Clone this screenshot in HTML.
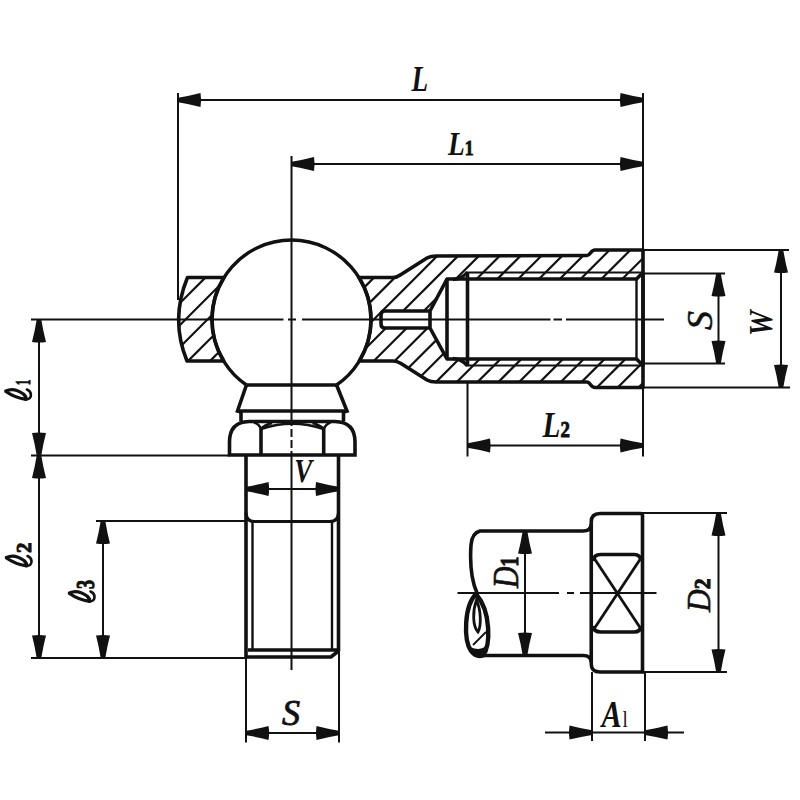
<!DOCTYPE html>
<html><head><meta charset="utf-8"><style>
html,body{margin:0;padding:0;background:#fff;}
svg{display:block;}
</style></head><body>
<svg width="800" height="800" viewBox="0 0 800 800">
<rect width="800" height="800" fill="#fff"/>
<defs>
<clipPath id="cl"><path d="M187.5,277.5 L224.00,277.5 A79.5,79.5 0 0 0 223.69,361 L187,361 Q170,319.5 187.5,277.5 Z"/></clipPath>
<clipPath id="cr"><path d="M359.00,277.5 L393,277.5 Q397,277.5 401,274.5 L427,258 Q430.5,256 436,256 L587,255.5 C590.5,255.5 590.5,250 595,250 L643,250 L643,387.5 L595,387.5 C590.5,387.5 590.5,382 587,382 L436,382 Q430.5,382 427,380 L401,363.5 Q397,361 393,361 L359.31,361 A79.5,79.5 0 0 0 359.00,277.5 Z M430,311 L447,279 L636.5,279 L643,272.5 L643,365.5 L636.5,359 L447,359 L430,328 Z M385,311 L430,311 L430,328 L385,328 Q381,328 381,324 L381,315 Q381,311 385,311 Z" clip-rule="evenodd"/></clipPath>
</defs>
<g clip-path="url(#cl)">
<line x1="145.00" y1="250" x2="-5.00" y2="400" stroke="#111" stroke-width="2.2"/>
<line x1="167.00" y1="250" x2="17.00" y2="400" stroke="#111" stroke-width="2.2"/>
<line x1="189.00" y1="250" x2="39.00" y2="400" stroke="#111" stroke-width="2.2"/>
<line x1="211.00" y1="250" x2="61.00" y2="400" stroke="#111" stroke-width="2.2"/>
<line x1="233.00" y1="250" x2="83.00" y2="400" stroke="#111" stroke-width="2.2"/>
<line x1="255.00" y1="250" x2="105.00" y2="400" stroke="#111" stroke-width="2.2"/>
<line x1="277.00" y1="250" x2="127.00" y2="400" stroke="#111" stroke-width="2.2"/>
<line x1="299.00" y1="250" x2="149.00" y2="400" stroke="#111" stroke-width="2.2"/>
<line x1="321.00" y1="250" x2="171.00" y2="400" stroke="#111" stroke-width="2.2"/>
<line x1="343.00" y1="250" x2="193.00" y2="400" stroke="#111" stroke-width="2.2"/>
<line x1="365.00" y1="250" x2="215.00" y2="400" stroke="#111" stroke-width="2.2"/>
</g>
<g clip-path="url(#cr)">
<line x1="338.40" y1="230" x2="168.40" y2="400" stroke="#111" stroke-width="2.2"/>
<line x1="359.20" y1="230" x2="189.20" y2="400" stroke="#111" stroke-width="2.2"/>
<line x1="380.00" y1="230" x2="210.00" y2="400" stroke="#111" stroke-width="2.2"/>
<line x1="400.80" y1="230" x2="230.80" y2="400" stroke="#111" stroke-width="2.2"/>
<line x1="421.60" y1="230" x2="251.60" y2="400" stroke="#111" stroke-width="2.2"/>
<line x1="442.40" y1="230" x2="272.40" y2="400" stroke="#111" stroke-width="2.2"/>
<line x1="463.20" y1="230" x2="293.20" y2="400" stroke="#111" stroke-width="2.2"/>
<line x1="484.00" y1="230" x2="314.00" y2="400" stroke="#111" stroke-width="2.2"/>
<line x1="504.80" y1="230" x2="334.80" y2="400" stroke="#111" stroke-width="2.2"/>
<line x1="525.60" y1="230" x2="355.60" y2="400" stroke="#111" stroke-width="2.2"/>
<line x1="546.40" y1="230" x2="376.40" y2="400" stroke="#111" stroke-width="2.2"/>
<line x1="567.20" y1="230" x2="397.20" y2="400" stroke="#111" stroke-width="2.2"/>
<line x1="588.00" y1="230" x2="418.00" y2="400" stroke="#111" stroke-width="2.2"/>
<line x1="608.80" y1="230" x2="438.80" y2="400" stroke="#111" stroke-width="2.2"/>
<line x1="629.60" y1="230" x2="459.60" y2="400" stroke="#111" stroke-width="2.2"/>
<line x1="650.40" y1="230" x2="480.40" y2="400" stroke="#111" stroke-width="2.2"/>
<line x1="671.20" y1="230" x2="501.20" y2="400" stroke="#111" stroke-width="2.2"/>
<line x1="692.00" y1="230" x2="522.00" y2="400" stroke="#111" stroke-width="2.2"/>
<line x1="712.80" y1="230" x2="542.80" y2="400" stroke="#111" stroke-width="2.2"/>
<line x1="733.60" y1="230" x2="563.60" y2="400" stroke="#111" stroke-width="2.2"/>
<line x1="754.40" y1="230" x2="584.40" y2="400" stroke="#111" stroke-width="2.2"/>
<line x1="775.20" y1="230" x2="605.20" y2="400" stroke="#111" stroke-width="2.2"/>
<line x1="796.00" y1="230" x2="626.00" y2="400" stroke="#111" stroke-width="2.2"/>
<line x1="816.80" y1="230" x2="646.80" y2="400" stroke="#111" stroke-width="2.2"/>
</g>
<path d="M187.5,277.5 L224.00,277.5 A79.5,79.5 0 0 0 223.69,361 L187,361 Q170,319.5 187.5,277.5 Z" fill="none" stroke="#111" stroke-width="3.6" stroke-linejoin="round"/>
<path d="M359.00,277.5 L393,277.5 Q397,277.5 401,274.5 L427,258 Q430.5,256 436,256 L587,255.5 C590.5,255.5 590.5,250 595,250 L643,250 L643,387.5 L595,387.5 C590.5,387.5 590.5,382 587,382 L436,382 Q430.5,382 427,380 L401,363.5 Q397,361 393,361 L359.31,361 A79.5,79.5 0 0 0 359.00,277.5 Z" fill="none" stroke="#111" stroke-width="3.6" stroke-linejoin="round"/>
<path d="M430,311 L447,279 L636.5,279 L643,272.5 L643,365.5 L636.5,359 L447,359 L430,328 Z M385,311 L430,311 L430,328 L385,328 Q381,328 381,324 L381,315 Q381,311 385,311 Z" fill="none" stroke="#111" stroke-width="3.6" stroke-linejoin="round"/>
<line x1="447" y1="279" x2="447" y2="359" stroke="#111" stroke-width="3.6" />
<line x1="467.5" y1="272.5" x2="467.5" y2="365.5" stroke="#111" stroke-width="3.6" />
<line x1="636.5" y1="279" x2="636.5" y2="359" stroke="#111" stroke-width="2.4" />
<line x1="467" y1="272.5" x2="643" y2="272.5" stroke="#111" stroke-width="2.0" />
<line x1="467" y1="365.5" x2="643" y2="365.5" stroke="#111" stroke-width="2.0" />
<path d="M453,279.5 Q462,279 467.5,272 M453,358.5 Q462,359 467.5,366" fill="none" stroke="#111" stroke-width="3.4"/>
<path d="M246.44,385 A79.5,79.5 0 1 1 336.56,385" fill="none" stroke="#111" stroke-width="3.4"/>
<path d="M246.44,385 L336.56,385" stroke="#111" stroke-width="3.6"/>
<path d="M246.44,385 L237.5,411 L241,412 L241,421 M336.56,385 L347,411 L343.5,412 L343.5,421" fill="none" stroke="#111" stroke-width="3.6"/>
<line x1="237.5" y1="411" x2="347" y2="411" stroke="#111" stroke-width="3.6" />
<path d="M229.5,455 L229.5,442 Q229.5,422 249,421.5 L335,421.5 Q355,422 355,442 L355,455 Z" fill="none" stroke="#111" stroke-width="3.6"/>
<line x1="261" y1="428.5" x2="261" y2="455" stroke="#111" stroke-width="3.6" />
<line x1="323.7" y1="428.5" x2="323.7" y2="455" stroke="#111" stroke-width="3.6" />
<path d="M254,422.5 Q259,424 261,429 Q264,425 272,423 M312.5,423 Q320,425 323.7,429 Q326,424 330.5,422.5 M261,429 Q292,418.5 323.7,429" fill="none" stroke="#111" stroke-width="2.6"/>
<path d="M246,455 L246,657 M338.5,455 L338.5,651" fill="none" stroke="#111" stroke-width="3.6"/>
<path d="M246,513 Q246.5,521.5 254,521.5 L330,521.5 Q338,521.5 338.5,513" fill="none" stroke="#111" stroke-width="3.2"/>
<line x1="252.5" y1="521" x2="252.5" y2="650" stroke="#111" stroke-width="2.4" />
<line x1="332" y1="521" x2="332" y2="650" stroke="#111" stroke-width="2.4" />
<line x1="248" y1="650" x2="337" y2="650" stroke="#111" stroke-width="3.6" />
<path d="M246,657 L331,657 L338.5,651" fill="none" stroke="#111" stroke-width="3.6"/>
<path d="M31,319.5 H283.5 M288,319.5 H296 M302,319.5 H550.5 M553.5,319.5 H562 M566,319.5 H664" stroke="#111" stroke-width="2.0"/>
<path d="M291.5,156 V426 M291.5,429 V437 M291.5,440 V448 M291.5,451 V670" stroke="#111" stroke-width="2.0"/>
<line x1="178" y1="100" x2="643" y2="100" stroke="#111" stroke-width="2.0" />
<path d="M178.00,97.70 Q190.38,95.70 200.50,93.00 Q201.70,100.00 200.50,107.00 Q190.38,104.30 178.00,102.30 Z" fill="#111"/>
<path d="M643.00,102.30 Q630.62,104.30 620.50,107.00 Q619.30,100.00 620.50,93.00 Q630.62,95.70 643.00,97.70 Z" fill="#111"/>
<line x1="178" y1="93" x2="178" y2="300" stroke="#111" stroke-width="2.0" />
<line x1="643" y1="93" x2="643" y2="250" stroke="#111" stroke-width="2.0" />
<line x1="291.5" y1="164" x2="643" y2="164" stroke="#111" stroke-width="2.0" />
<path d="M291.50,161.70 Q303.88,159.70 314.00,157.00 Q315.20,164.00 314.00,171.00 Q303.88,168.30 291.50,166.30 Z" fill="#111"/>
<path d="M643.00,166.30 Q630.62,168.30 620.50,171.00 Q619.30,164.00 620.50,157.00 Q630.62,159.70 643.00,161.70 Z" fill="#111"/>
<line x1="643" y1="250" x2="789" y2="250" stroke="#111" stroke-width="2.0" />
<line x1="643" y1="387.5" x2="790" y2="387.5" stroke="#111" stroke-width="2.0" />
<line x1="781" y1="250" x2="781" y2="387.5" stroke="#111" stroke-width="2.0" />
<path d="M783.30,250.00 Q785.30,262.38 788.00,272.50 Q781.00,273.70 774.00,272.50 Q776.70,262.38 778.70,250.00 Z" fill="#111"/>
<path d="M778.70,387.50 Q776.70,375.12 774.00,365.00 Q781.00,363.80 788.00,365.00 Q785.30,375.12 783.30,387.50 Z" fill="#111"/>
<line x1="643" y1="273.5" x2="725" y2="273.5" stroke="#111" stroke-width="2.0" />
<line x1="643" y1="363.5" x2="725" y2="363.5" stroke="#111" stroke-width="2.0" />
<line x1="718.5" y1="273.5" x2="718.5" y2="363.5" stroke="#111" stroke-width="2.0" />
<path d="M720.80,273.50 Q722.80,285.88 725.50,296.00 Q718.50,297.20 711.50,296.00 Q714.20,285.88 716.20,273.50 Z" fill="#111"/>
<path d="M716.20,363.50 Q714.20,351.12 711.50,341.00 Q718.50,339.80 725.50,341.00 Q722.80,351.12 720.80,363.50 Z" fill="#111"/>
<line x1="467.5" y1="382" x2="467.5" y2="456.5" stroke="#111" stroke-width="2.0" />
<line x1="643" y1="387.5" x2="643" y2="456.5" stroke="#111" stroke-width="2.0" />
<line x1="467.5" y1="445.5" x2="643" y2="445.5" stroke="#111" stroke-width="2.0" />
<path d="M467.50,443.20 Q479.88,441.20 490.00,438.50 Q491.20,445.50 490.00,452.50 Q479.88,449.80 467.50,447.80 Z" fill="#111"/>
<path d="M643.00,447.80 Q630.62,449.80 620.50,452.50 Q619.30,445.50 620.50,438.50 Q630.62,441.20 643.00,443.20 Z" fill="#111"/>
<line x1="31" y1="455.5" x2="229.5" y2="455.5" stroke="#111" stroke-width="2.0" />
<line x1="39" y1="319.5" x2="39" y2="455.5" stroke="#111" stroke-width="2.0" />
<path d="M41.30,319.50 Q43.30,331.88 46.00,342.00 Q39.00,343.20 32.00,342.00 Q34.70,331.88 36.70,319.50 Z" fill="#111"/>
<path d="M36.70,455.50 Q34.70,443.12 32.00,433.00 Q39.00,431.80 46.00,433.00 Q43.30,443.12 41.30,455.50 Z" fill="#111"/>
<line x1="39" y1="455.5" x2="39" y2="658" stroke="#111" stroke-width="2.0" />
<path d="M41.30,455.50 Q43.30,467.88 46.00,478.00 Q39.00,479.20 32.00,478.00 Q34.70,467.88 36.70,455.50 Z" fill="#111"/>
<path d="M36.70,658.00 Q34.70,645.62 32.00,635.50 Q39.00,634.30 46.00,635.50 Q43.30,645.62 41.30,658.00 Z" fill="#111"/>
<line x1="31" y1="658" x2="246" y2="658" stroke="#111" stroke-width="2.0" />
<line x1="96" y1="521" x2="246" y2="521" stroke="#111" stroke-width="2.0" />
<line x1="103" y1="521" x2="103" y2="658" stroke="#111" stroke-width="2.0" />
<path d="M105.30,521.00 Q107.30,533.38 110.00,543.50 Q103.00,544.70 96.00,543.50 Q98.70,533.38 100.70,521.00 Z" fill="#111"/>
<path d="M100.70,658.00 Q98.70,645.62 96.00,635.50 Q103.00,634.30 110.00,635.50 Q107.30,645.62 105.30,658.00 Z" fill="#111"/>
<line x1="246" y1="489" x2="338.5" y2="489" stroke="#111" stroke-width="2.0" />
<path d="M246.00,486.70 Q258.38,484.70 268.50,482.00 Q269.70,489.00 268.50,496.00 Q258.38,493.30 246.00,491.30 Z" fill="#111"/>
<path d="M338.50,491.30 Q326.12,493.30 316.00,496.00 Q314.80,489.00 316.00,482.00 Q326.12,484.70 338.50,486.70 Z" fill="#111"/>
<line x1="246" y1="657" x2="246" y2="742.5" stroke="#111" stroke-width="2.0" />
<line x1="339" y1="651" x2="339" y2="742.5" stroke="#111" stroke-width="2.0" />
<line x1="246" y1="733" x2="339" y2="733" stroke="#111" stroke-width="2.0" />
<path d="M246.00,730.70 Q258.38,728.70 268.50,726.00 Q269.70,733.00 268.50,740.00 Q258.38,737.30 246.00,735.30 Z" fill="#111"/>
<path d="M339.00,735.30 Q326.62,737.30 316.50,740.00 Q315.30,733.00 316.50,726.00 Q326.62,728.70 339.00,730.70 Z" fill="#111"/>
<path d="M583,531 L480,531 Q472,533 471,545 Q469,575 477,593" fill="none" stroke="#111" stroke-width="3.6"/>
<path d="M583,655.5 L480,655.5" fill="none" stroke="#111" stroke-width="3.6"/>
<path d="M476,594 C464,606 463.5,640 471,651 Q476,657.5 483,655.5 C490.5,646 491.5,612 476,594 Z" fill="none" stroke="#111" stroke-width="4.4" stroke-linejoin="round"/>
<path d="M476.5,600 C472.5,611 472.5,626 478,632 C481.5,626 481,610 476.5,600 Z" fill="#fff" stroke="#111" stroke-width="2.8"/>
<path d="M470,647 Q475,657 484,655 L487,644 Q482,652 470,647 Z" fill="#111"/>
<line x1="473" y1="645" x2="486" y2="632" stroke="#111" stroke-width="1.8" />
<path d="M591.25,522 Q591.25,513.5 600,513.5 L640.5,513.5 Q642.5,513.5 642.5,515.5 L642.5,672 L600,672 Q591.25,672 591.25,664 Z" fill="none" stroke="#111" stroke-width="3.6"/>
<path d="M583,531 Q591,531 591.25,524 M583,655.5 Q591,655.5 591.25,662" fill="none" stroke="#111" stroke-width="3.6"/>
<path d="M593,561 Q593.5,554.5 601,554.5 L634,554.5 Q640.5,554.5 641,561 M593,626 Q593.5,632 601,632 L634,632 Q640.5,632 641,626" fill="none" stroke="#111" stroke-width="3.6"/>
<line x1="594" y1="558" x2="641" y2="629" stroke="#111" stroke-width="2.8" />
<line x1="641" y1="558" x2="594" y2="629" stroke="#111" stroke-width="2.8" />
<path d="M457.5,593 H559 M567,593 H574 M580,593 H656.5" stroke="#111" stroke-width="2.0"/>
<line x1="525" y1="531" x2="525" y2="655.5" stroke="#111" stroke-width="2.0" />
<path d="M527.30,531.00 Q529.30,543.38 532.00,553.50 Q525.00,554.70 518.00,553.50 Q520.70,543.38 522.70,531.00 Z" fill="#111"/>
<path d="M522.70,655.50 Q520.70,643.12 518.00,633.00 Q525.00,631.80 532.00,633.00 Q529.30,643.12 527.30,655.50 Z" fill="#111"/>
<line x1="642" y1="513" x2="727" y2="513" stroke="#111" stroke-width="2.0" />
<line x1="642" y1="672" x2="727" y2="672" stroke="#111" stroke-width="2.0" />
<line x1="718.5" y1="513" x2="718.5" y2="672" stroke="#111" stroke-width="2.0" />
<path d="M720.80,513.00 Q722.80,525.38 725.50,535.50 Q718.50,536.70 711.50,535.50 Q714.20,525.38 716.20,513.00 Z" fill="#111"/>
<path d="M716.20,672.00 Q714.20,659.62 711.50,649.50 Q718.50,648.30 725.50,649.50 Q722.80,659.62 720.80,672.00 Z" fill="#111"/>
<line x1="592" y1="672" x2="592" y2="741" stroke="#111" stroke-width="2.0" />
<line x1="645" y1="672" x2="645" y2="741" stroke="#111" stroke-width="2.0" />
<line x1="545" y1="732.6" x2="684" y2="732.6" stroke="#111" stroke-width="2.0" />
<path d="M592.00,734.90 Q579.62,736.90 569.50,739.60 Q568.30,732.60 569.50,725.60 Q579.62,728.30 592.00,730.30 Z" fill="#111"/>
<path d="M645.00,730.30 Q657.38,728.30 667.50,725.60 Q668.70,732.60 667.50,739.60 Q657.38,736.90 645.00,734.90 Z" fill="#111"/>
<g transform="translate(411.00,68.50) scale(0.800,1.045) translate(-89,-78)"><text x="100" y="100" font-family="Liberation Serif" font-style="italic" font-weight="bold" font-size="34" text-anchor="middle" fill="#111">L</text></g>
<g transform="translate(448.00,133.00) scale(0.806,1.000) translate(-284,-78)"><text x="300" y="100" font-family="Liberation Serif" font-style="italic" font-weight="bold" font-size="34" text-anchor="middle" fill="#111">L<tspan font-size="22" font-style="normal" font-weight="bold" stroke="#111" stroke-width="0.9">1</tspan></text></g>
<g transform="translate(542.50,415.00) scale(0.859,1.022) translate(-484,-78)"><text x="500" y="100" font-family="Liberation Serif" font-style="italic" font-weight="bold" font-size="34" text-anchor="middle" fill="#111">L<tspan font-size="22" font-style="normal" font-weight="bold" stroke="#111" stroke-width="0.9">2</tspan></text></g>
<g transform="translate(296.00,460.50) scale(0.900,1.132) translate(-692,-81)"><text x="700" y="100" font-family="Liberation Serif" font-style="italic" font-weight="bold" font-size="30" text-anchor="middle" fill="#111">V</text></g>
<g transform="translate(282.00,702.00) scale(1.125,1.091) translate(-92,-279)"><text x="100" y="300" font-family="Liberation Serif" font-style="italic" font-weight="normal" font-size="32" text-anchor="middle" fill="#111"><tspan stroke="#111" stroke-width="0.8">S</tspan></text></g>
<g transform="translate(599.50,702.00) scale(0.948,1.190) translate(-284,-279)"><text x="300" y="300" font-family="Liberation Serif" font-style="italic" font-weight="bold" font-size="32" text-anchor="middle" fill="#111">A<tspan font-size="20" font-style="normal" font-weight="normal" dx="1">l</tspan></text></g>
<g transform="translate(689.00,311.00) scale(1.095,1.188) translate(-479,-292)"><text x="500" y="300" font-family="Liberation Serif" font-style="italic" font-weight="normal" font-size="32" text-anchor="middle" transform="rotate(-90 500 300)" fill="#111"><tspan stroke="#111" stroke-width="0.5">S</tspan></text></g>
<g transform="translate(750.00,309.00) scale(1.048,0.893) translate(-679,-284)"><text x="700" y="300" font-family="Liberation Serif" font-style="italic" font-weight="bold" font-size="32" text-anchor="middle" transform="rotate(-90 700 300)" fill="#111">W</text></g>
<g transform="translate(494.50,557.50) scale(1.114,0.926) translate(-79,-484)"><text x="100" y="500" font-family="Liberation Serif" font-style="italic" font-weight="normal" font-size="32" text-anchor="middle" transform="rotate(-90 100 500)" fill="#111"><tspan stroke="#111" stroke-width="0.6">D</tspan><tspan font-size="22" font-style="normal" font-weight="bold" stroke="#111" stroke-width="0.9">1</tspan></text></g>
<g transform="translate(687.50,578.50) scale(1.068,0.986) translate(-279,-483)"><text x="300" y="500" font-family="Liberation Serif" font-style="italic" font-weight="normal" font-size="32" text-anchor="middle" transform="rotate(-90 300 500)" fill="#111"><tspan stroke="#111" stroke-width="0.6">D</tspan><tspan font-size="22" font-style="normal" font-weight="bold" stroke="#111" stroke-width="0.9">2</tspan></text></g>
<g transform="translate(15.75,380.00) scale(0.953,0.511) translate(-485,-495)"><text x="500" y="500" font-family="Liberation Serif" font-style="italic" font-weight="bold" font-size="22" text-anchor="middle" transform="rotate(-90 500 500)" fill="#111"><tspan font-style="normal" stroke="#111" stroke-width="1">1</tspan></text></g>
<g transform="translate(16.00,543.00) scale(1.000,0.950) translate(-685,-495)"><text x="700" y="500" font-family="Liberation Serif" font-style="italic" font-weight="bold" font-size="22" text-anchor="middle" transform="rotate(-90 700 500)" fill="#111"><tspan font-style="normal" stroke="#111" stroke-width="1">2</tspan></text></g>
<g transform="translate(78.50,580.25) scale(1.133,0.825) translate(-86,-695)"><text x="100" y="700" font-family="Liberation Serif" font-style="italic" font-weight="bold" font-size="22" text-anchor="middle" transform="rotate(-90 100 700)" fill="#111"><tspan font-style="normal" stroke="#111" stroke-width="1">3</tspan></text></g>
<g transform="translate(4.9,390)" fill="none" stroke="#111" stroke-linecap="round"><path d="M1,1 Q9,-2.8 18.5,4 Q22,7.5 21,9.3 Q10,7.8 1,1.5 Z" stroke-width="3.3"/><path d="M20.5,9.5 Q26.5,9.5 26,4.2 Q25.5,0.8 22,-0.5" stroke-width="2.6"/></g>
<g transform="translate(5.5,556.5)" fill="none" stroke="#111" stroke-linecap="round"><path d="M1,1 Q9,-2.8 18.5,4 Q22,7.5 21,9.3 Q10,7.8 1,1.5 Z" stroke-width="3.3"/><path d="M20.5,9.5 Q26.5,9.5 26,4.2 Q25.5,0.8 22,-0.5" stroke-width="2.6"/></g>
<g transform="translate(68.5,592)" fill="none" stroke="#111" stroke-linecap="round"><path d="M1,1 Q9,-2.8 18.5,4 Q22,7.5 21,9.3 Q10,7.8 1,1.5 Z" stroke-width="3.3"/><path d="M20.5,9.5 Q26.5,9.5 26,4.2 Q25.5,0.8 22,-0.5" stroke-width="2.6"/></g>
</svg>
</body></html>
